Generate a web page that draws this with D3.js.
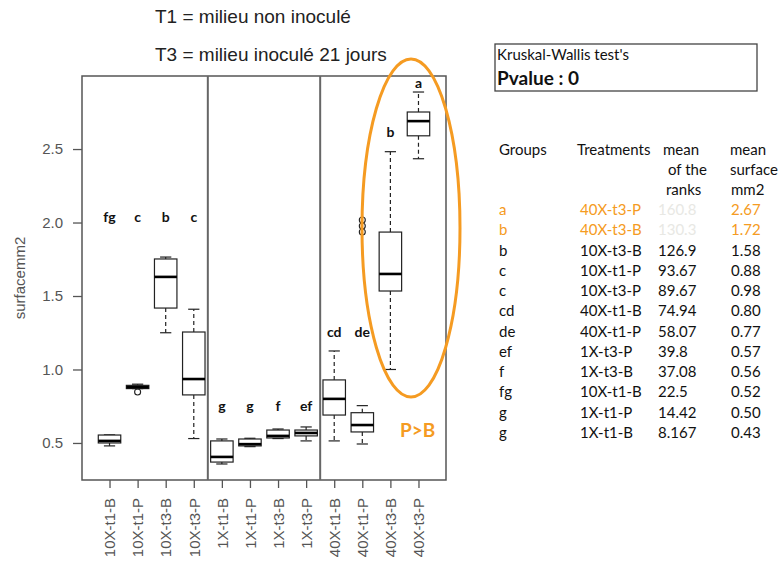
<!DOCTYPE html>
<html>
<head>
<meta charset="utf-8">
<script src="https://cdn.jsdelivr.net/npm/d3@7"></script>
<style>
  body { margin: 0; background: #fff; }
  svg { display: block; }
</style>
</head>
<body>
<script>
// treatments, in plotting order
const treatments = ['10X-t1-B', '10X-t1-P', '10X-t3-B', '10X-t3-P',
  '1X-t1-B', '1X-t1-P', '1X-t3-B', '1X-t3-P',
  '40X-t1-B', '40X-t1-P', '40X-t3-B', '40X-t3-P'];

// boxplot stats
const lowWhisker = [0.48, 0.87, 1.25, 0.53, 0.357, 0.475, 0.53, 0.514, 0.514, 0.493, 1.0, 2.434];
const q1 = [0.5, 0.87, 1.418, 0.827, 0.37, 0.48, 0.534, 0.548, 0.69, 0.575, 1.534, 2.59];
const median = [0.514, 0.88, 1.63, 0.935, 0.405, 0.492, 0.548, 0.568, 0.8, 0.622, 1.65, 2.69];
const q3 = [0.554, 0.892, 1.752, 1.255, 0.514, 0.527, 0.588, 0.588, 0.929, 0.706, 1.935, 2.752];
const highWhisker = [0.555, 0.9, 1.765, 1.41, 0.527, 0.532, 0.595, 0.609, 1.126, 0.754, 2.482, 2.888];

// outliers: [treatment index, value]
const outliers = [[1, 0.847], [9, 1.935], [9, 1.976], [9, 2.017]];

// group letters and the height they sit at
const letters = ['fg', 'c', 'b', 'c', 'g', 'g', 'f', 'ef', 'cd', 'de', 'b', 'a'];
const letterY = [2.04, 2.04, 2.04, 2.04, 0.75, 0.75, 0.75, 0.75, 1.255, 1.255, 2.616, 2.95];

const yTicks = [0.5, 1.0, 1.5, 2.0, 2.5];

// Kruskal-Wallis table
const tblGroups = ['a', 'b', 'b', 'c', 'c', 'cd', 'de', 'ef', 'f', 'fg', 'g', 'g'];
const tblTreat = ['40X-t3-P', '40X-t3-B', '10X-t3-B', '10X-t1-P', '10X-t3-P', '40X-t1-B',
  '40X-t1-P', '1X-t3-P', '1X-t3-B', '10X-t1-B', '1X-t1-P', '1X-t1-B'];
const tblRank = ['160.8', '130.3', '126.9', '93.67', '89.67', '74.94', '58.07', '39.8',
  '37.08', '22.5', '14.42', '8.167'];
const tblSurface = ['2.67', '1.72', '1.58', '0.88', '0.98', '0.80', '0.77', '0.57',
  '0.56', '0.52', '0.50', '0.43'];
const highlighted = 2; // first rows drawn in orange

const orange = '#f59b22';

const svg = d3.select('body').append('svg')
  .attr('width', 780)
  .attr('height', 567);

// scales
const x = d3.scaleLinear().domain([0.02, 12.98]).range([82, 446]);
const y = d3.scaleLinear().domain([0.248, 2.997]).range([480, 76]);
const boxW = x(0.8) - x(0);
const capW = boxW / 2;

// titles
svg.append('text').attr('x', 155).attr('y', 23)
  .style('font', '19px "Liberation Sans", Arial, sans-serif').style('fill', '#222')
  .text('T1 = milieu non inoculé');
svg.append('text').attr('x', 155).attr('y', 61)
  .style('font', '19px "Liberation Sans", Arial, sans-serif').style('fill', '#222')
  .text('T3 = milieu inoculé 21 jours');

// axes
const yAxis = svg.append('g')
  .attr('transform', 'translate(82,0)')
  .call(d3.axisLeft(y).tickValues(yTicks).tickFormat(d3.format('.1f'))
    .tickSize(9).tickPadding(10).tickSizeOuter(0));
yAxis.select('.domain').remove();
yAxis.selectAll('line').attr('stroke', '#555').attr('stroke-width', 1.3);
yAxis.selectAll('text')
  .style('font', '15px "Liberation Sans", Arial, sans-serif').style('fill', '#555');

const xAxis = svg.append('g')
  .attr('transform', 'translate(0,480)')
  .call(d3.axisBottom(x).tickValues(d3.range(1, 13))
    .tickFormat((d) => treatments[d - 1]).tickSize(8).tickSizeOuter(0));
xAxis.select('.domain').remove();
xAxis.selectAll('line').attr('stroke', '#555').attr('stroke-width', 1.3);
xAxis.selectAll('text')
  .attr('transform', 'rotate(-90)')
  .attr('x', -18).attr('y', 0).attr('dy', '0.35em')
  .style('text-anchor', 'end')
  .style('font', '15px "Liberation Sans", Arial, sans-serif').style('fill', '#555');

svg.append('text')
  .attr('transform', 'translate(20,278) rotate(-90)')
  .attr('text-anchor', 'middle').attr('dy', '0.35em')
  .style('font', '15px "Liberation Sans", Arial, sans-serif').style('fill', '#555')
  .text('surfacemm2');

// frame and dividers
svg.append('rect')
  .attr('x', 82).attr('y', 76).attr('width', 364).attr('height', 404)
  .attr('fill', 'none').attr('stroke', '#555').attr('stroke-width', 1.5);
svg.selectAll('.divider')
  .data([4.5, 8.5])
  .enter().append('line')
  .attr('class', 'divider')
  .attr('x1', (d) => x(d)).attr('x2', (d) => x(d))
  .attr('y1', 76).attr('y2', 480)
  .attr('stroke', '#666').attr('stroke-width', 2);

// boxes
const boxes = svg.append('g').selectAll('g')
  .data(treatments)
  .enter().append('g')
  .attr('transform', (d, i) => `translate(${x(i + 1)},0)`);

boxes.append('line') // upper whisker
  .attr('y1', (d, i) => y(q3[i])).attr('y2', (d, i) => y(highWhisker[i]))
  .attr('stroke', '#222').attr('stroke-width', 1.2).attr('stroke-dasharray', '4,3');
boxes.append('line') // lower whisker
  .attr('y1', (d, i) => y(q1[i])).attr('y2', (d, i) => y(lowWhisker[i]))
  .attr('stroke', '#222').attr('stroke-width', 1.2).attr('stroke-dasharray', '4,3');
boxes.selectAll('.cap')
  .data((d, i) => [highWhisker[i], lowWhisker[i]])
  .enter().append('line')
  .attr('class', 'cap')
  .attr('x1', -capW / 2).attr('x2', capW / 2)
  .attr('y1', (v) => y(v)).attr('y2', (v) => y(v))
  .attr('stroke', '#222').attr('stroke-width', 1.2);
boxes.append('rect')
  .attr('x', -boxW / 2).attr('width', boxW)
  .attr('y', (d, i) => y(q3[i]))
  .attr('height', (d, i) => y(q1[i]) - y(q3[i]))
  .attr('fill', '#fff').attr('stroke', '#222').attr('stroke-width', 1.2);
boxes.append('line')
  .attr('x1', -boxW / 2).attr('x2', boxW / 2)
  .attr('y1', (d, i) => y(median[i])).attr('y2', (d, i) => y(median[i]))
  .attr('stroke', '#000').attr('stroke-width', 2.6);

svg.append('g').selectAll('circle')
  .data(outliers)
  .enter().append('circle')
  .attr('cx', (d) => x(d[0] + 1)).attr('cy', (d) => y(d[1]))
  .attr('r', 3).attr('fill', 'none').attr('stroke', '#222').attr('stroke-width', 1.1);

// letters
svg.append('g').selectAll('text')
  .data(letters)
  .enter().append('text')
  .attr('x', (d, i) => x(i + 1)).attr('y', (d, i) => y(letterY[i]))
  .attr('text-anchor', 'middle').attr('dy', '0.35em')
  .style('font', 'bold 14px Lato, sans-serif').style('fill', '#111')
  .text((d) => d);

// highlight
svg.append('ellipse')
  .attr('cx', 411).attr('cy', 228).attr('rx', 49).attr('ry', 169)
  .attr('fill', 'none').attr('stroke', orange).attr('stroke-width', 3);
svg.append('text').attr('x', 400).attr('y', 437)
  .style('font', 'bold 19px Lato, sans-serif').style('fill', orange)
  .text('P>B');

// Kruskal-Wallis box
svg.append('rect')
  .attr('x', 495).attr('y', 44).attr('width', 262).attr('height', 47)
  .attr('fill', 'none').attr('stroke', '#444').attr('stroke-width', 1.3);
svg.append('text').attr('x', 497).attr('y', 60)
  .style('font', '15px Lato, sans-serif').style('fill', '#111')
  .text("Kruskal-Wallis test's");
svg.append('text').attr('x', 497).attr('y', 85)
  .style('font', 'bold 19px Lato, sans-serif').style('fill', '#111')
  .text('Pvalue : 0');

// table
const colX = [499, 580, 658, 731];
const tableFont = '15px Lato, sans-serif';
const headers = [
  [colX[0], 155, 'Groups'], [577, 155, 'Treatments'],
  [663, 155, 'mean'], [668, 175, 'of the'], [666, 195, 'ranks'],
  [730, 155, 'mean'], [730, 175, 'surface'], [731, 195, 'mm2']
];
svg.append('g').selectAll('text')
  .data(headers)
  .enter().append('text')
  .attr('x', (d) => d[0]).attr('y', (d) => d[1])
  .style('font', tableFont).style('fill', '#111')
  .text((d) => d[2]);

const rowY = d3.scaleLinear().domain([0, 11]).range([215, 438]);
const rows = svg.append('g').selectAll('g')
  .data(tblGroups)
  .enter().append('g')
  .attr('transform', (d, i) => `translate(0,${rowY(i)})`);
const cols = [tblGroups, tblTreat, tblRank, tblSurface];
cols.forEach((col, c) => {
  rows.append('text')
    .attr('x', colX[c])
    .style('font', tableFont)
    .style('fill', (d, i) => {
      if (i >= highlighted) return '#111';
      return c === 2 ? '#e8e8e4' : orange;
    })
    .text((d, i) => col[i]);
});
</script>
</body>
</html>
